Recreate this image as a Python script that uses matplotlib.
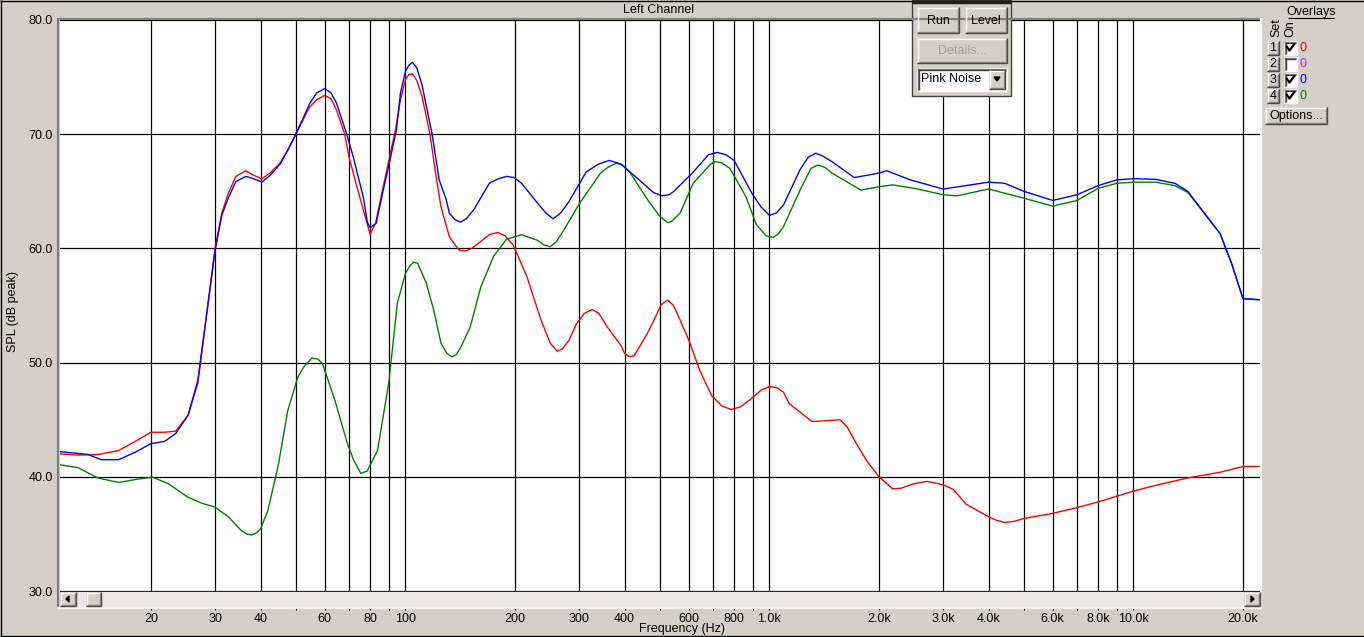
import matplotlib.pyplot as plt
from matplotlib.patches import Rectangle, Polygon
from matplotlib.ticker import NullLocator

# ---- measured curves (frequency in Hz, level in dB) ----
RED_F = [11.25, 12.6, 14.3, 16.3, 18.1, 20.0, 21.8, 23.4, 25.3, 26.9, 28.7, 30.0,
         31.3, 32.6, 34.2, 36.4, 38.3, 40.3, 42.5, 45.3, 47.5, 50.0, 54.6, 57.0,
         60.0, 62.5, 64.7, 68.1, 70.0, 74.0, 78.9, 80.0, 82.8, 86.1, 89.9, 93.9,
         96.9, 100, 102, 104.5, 107.5, 111.1, 116.8, 121.0, 125.2, 132.1, 138.1,
         140.5, 145.9, 152, 161.0, 170, 179.4, 188, 197.6, 215.8, 235.9, 250, 261.2,
         270, 281.5, 295, 310, 325.7, 340, 359, 392.7, 400, 413.8, 425, 440, 466.5,
         505, 525.6, 545, 558, 600, 644, 694, 740, 784.6, 830, 881, 950, 1000, 1050,
         1093, 1134, 1210, 1306, 1420, 1564, 1640, 1712, 1850, 2000, 2180, 2300, 2500,
         2710, 3000, 3200, 3470, 4000, 4200, 4430, 4700, 5000, 6000, 7000, 8000, 9000,
         10000, 11500, 14100, 17300, 20000, 22270]
RED_DB = [42.0, 41.9, 41.95, 42.3, 43.1, 43.9, 43.9, 44.0, 45.4, 48.2, 55.2, 60.0,
          63.1, 64.8, 66.3, 66.8, 66.4, 66.1, 66.6, 67.5, 68.6, 70.0, 72.4, 73.0,
          73.4, 73.1, 72.1, 70.0, 68.0, 65.1, 61.9, 61.25, 62.2, 64.8, 67.6, 70.4,
          73.0, 74.75, 75.2, 75.3, 74.7, 73.3, 70.0, 66.6, 63.65, 61.0, 60.15,
          59.85, 59.77, 60.0, 60.6, 61.2, 61.4, 61.1, 60.3, 57.5, 53.7, 51.7, 51.0,
          51.2, 51.96, 53.4, 54.3, 54.65, 54.3, 53.1, 51.4, 50.8, 50.5, 50.6, 51.4, 52.8,
          55.1, 55.47, 55.0, 54.3, 52.0, 49.3, 47.1, 46.2, 45.9, 46.1, 46.7, 47.6, 47.9, 47.8,
          47.4, 46.4, 45.7, 44.85, 44.9, 45.0, 44.3, 43.2, 41.4, 40.0, 38.95, 39.0, 39.4,
          39.6, 39.3, 38.9, 37.6, 36.5, 36.2, 36.0, 36.1, 36.35, 36.8, 37.3, 37.8, 38.3,
          38.75, 39.25, 39.9, 40.4, 40.9, 40.9]

BLUE_F = [11.25, 13.4, 14.6, 16.3, 18.1, 20.0, 21.8, 23.4, 25.3, 26.9, 28.7, 30.0,
          31.3, 32.6, 34.2, 36.4, 38.3, 40.3, 42.5, 45.3, 47.5, 50.0, 54.6, 57.0,
          60.0, 62.5, 64.7, 69.0, 71.9, 76.6, 78.6, 80.0, 83.1, 86.5, 90.5, 94.5,
          96.9, 100, 102, 104.5, 107.5, 111.1, 118.4, 123.8, 129.5, 132.1, 137,
          141.8, 147, 154.2, 170, 180, 189.5, 199, 208.5, 230.9, 243, 254.4, 267,
          281.5, 313.8, 340, 363, 390, 424.5, 480, 506, 530, 545, 614, 680, 718.6,
          760, 800, 896, 950, 1000, 1045, 1093, 1214, 1280, 1341, 1400, 1485, 1711,
          2000, 2100, 2440, 3000, 4000, 4430, 5000, 6000, 7000, 8000, 9000, 10000,
          11500, 13000, 14100, 15300, 17300, 18600, 20000, 22270]
BLUE_DB = [42.2, 41.96, 41.5, 41.5, 42.15, 42.9, 43.1, 43.8, 45.4, 48.45, 55.2, 59.85,
           62.9, 64.4, 65.85, 66.3, 66.1, 65.8, 66.4, 67.4, 68.6, 70.0, 72.7, 73.6,
           74.0, 73.6, 72.7, 70.0, 68.0, 64.5, 62.3, 61.8, 62.2, 64.8, 67.6, 70.4,
           73.6, 75.5, 76.0, 76.3, 75.8, 74.3, 70.0, 66.0, 64.25, 63.07, 62.5,
           62.3, 62.6, 63.4, 65.7, 66.1, 66.3, 66.2, 65.7, 63.95, 63.1, 62.6, 63.1,
           64.1, 66.7, 67.4, 67.7, 67.4, 66.4, 64.9, 64.6, 64.7, 64.97, 66.6, 68.2, 68.4,
           68.2, 67.7, 64.8, 63.6, 62.9, 63.1, 63.8, 66.9, 68.0, 68.33, 68.1, 67.6, 66.2,
           66.6, 66.8, 66.0, 65.2, 65.8, 65.7, 65.0, 64.2, 64.7, 65.5, 66.0, 66.1,
           66.05, 65.7, 65.0, 63.5, 61.3, 58.7, 55.6, 55.5]

GREEN_F = [11.25, 12.6, 14.3, 16.3, 18.4, 20.2, 22.3, 25.3, 27.5, 30.0, 32.6, 35.4,
           36.6, 37.8, 39.0, 40.0, 41.9, 44.8, 47.5, 50.6, 52.5, 55.3, 57.5, 59.2, 64.0,
           69.3, 72.0, 75.4, 78.5, 83.8, 90.0, 95.0, 100, 103, 105.5, 108, 114.0,
           119.6, 125.2, 130, 134.3, 138, 142.2, 150.6, 161.0, 174.6, 189.5, 208.5,
           230.9, 240, 250, 260, 272.3, 301, 343.6, 360, 380, 395, 412.7, 466.5, 500,
           525.6, 540, 568.5, 617.3, 690, 711, 740, 779, 862.6, 920, 980, 1024, 1060,
           1093, 1214, 1300, 1355, 1420, 1485, 1784, 2000, 2180, 2500, 3000, 3270,
           4000, 5000, 6000, 7000, 8000, 9000, 10000, 11500, 13000, 14100, 15300,
           17300, 18600, 20000, 22270]
GREEN_DB = [41.05, 40.8, 39.9, 39.5, 39.8, 39.97, 39.4, 38.2, 37.7, 37.35, 36.5, 35.3,
            35.0, 34.9, 35.1, 35.44, 37.05, 41.1, 45.8, 48.7, 49.6, 50.4, 50.3, 49.9, 46.7,
            42.9, 41.5, 40.3, 40.5, 42.3, 48.2, 55.2, 57.8, 58.5, 58.8, 58.7, 57.0,
            54.6, 51.7, 50.8, 50.5, 50.7, 51.4, 53.1, 56.6, 59.3, 60.8, 61.2,
            60.7, 60.3, 60.15, 60.6, 61.6, 63.95, 66.6, 67.1, 67.46, 67.3, 66.7, 64.1, 62.8,
            62.25, 62.4, 63.1, 65.7, 67.4, 67.6, 67.5, 67.0, 64.5, 62.1, 61.1, 60.96, 61.3,
            61.9, 65.1, 67.0, 67.3, 67.1, 66.6, 65.1, 65.4, 65.56, 65.26, 64.7, 64.6,
            65.2, 64.4, 63.7, 64.2, 65.26, 65.7, 65.8, 65.8, 65.5, 64.9, 63.5,
            61.3, 58.7, 55.6, 55.5]

GRID_F = [20, 30, 40, 50, 60, 70, 80, 90, 100, 200, 300, 400, 500, 600, 700, 800,
          900, 1000, 2000, 3000, 4000, 5000, 6000, 7000, 8000, 9000, 10000, 20000]
LABELED = {20: '20', 30: '30', 40: '40', 60: '60', 80: '80', 100: '100', 200: '200',
           300: '300', 400: '400', 600: '600', 800: '800', 1000: '1.0k', 2000: '2.0k',
           3000: '3.0k', 4000: '4.0k', 6000: '6.0k', 8000: '8.0k', 10000: '10.0k',
           20000: '20.0k'}
Y_TICKS = [30, 40, 50, 60, 70, 80]

SETS = ['1', '2', '3', '4']
SET_ON = [True, False, True, True]
SET_COLORS = ['#FF0000', '#FF00FF', '#0000FF', '#008000']

# ---- layout ----
BG = '#D4D0C8'
W, H = 1364, 637
F_LEFT, F_RIGHT = 11.247, 22270
plt.rcParams['font.family'] = ['Liberation Sans', 'DejaVu Sans']
FS = 9


def fbox(x0, y0, x1, y1):
    # pixel box, origin top-left -> figure fraction rect
    return [x0 / W, 1 - y1 / H, (x1 - x0) / W, (y1 - y0) / H]


fig = plt.figure(figsize=(W / 100, H / 100), dpi=100, facecolor=BG)

# main plot
ax = fig.add_axes(fbox(60, 20, 1260, 591))
ax.set_facecolor('white')
ax.set_xscale('log')
ax.set_xlim(F_LEFT, F_RIGHT)
ax.set_ylim(30, 80)
ax.set_xticks(GRID_F)
ax.xaxis.set_minor_locator(NullLocator())
ax.set_yticks(Y_TICKS)
ax.set_yticklabels([f'{v:.1f}' for v in Y_TICKS])
ax.tick_params(axis='x', length=0, labelbottom=False)
ax.tick_params(axis='y', length=0, pad=5, labelsize=FS)
ax.grid(True, color='black', linewidth=0.9)
ax.set_axisbelow(True)
for s in ax.spines.values():
    s.set_visible(False)

ax.plot(RED_F, RED_DB, color='#FF0000', lw=1.0, zorder=3)
ax.plot(GREEN_F, GREEN_DB, color='#008000', lw=1.0, zorder=3)
ax.plot(BLUE_F, BLUE_DB, color='#0000FF', lw=1.0, zorder=4)

# scrollbar strip that also carries the frequency labels
sx = fig.add_axes(fbox(60, 591, 1260, 607))
sx.set_facecolor('#EAE9E5')
sx.set_xscale('log')
sx.set_xlim(F_LEFT, F_RIGHT)
sx.set_ylim(0, 1)
sx.set_xticks(GRID_F)
sx.set_xticklabels([LABELED.get(f, '') for f in GRID_F])
sx.xaxis.set_minor_locator(NullLocator())
sx.set_yticks([])
sx.tick_params(axis='x', direction='out', length=2.5, width=0.8, pad=1.5, labelsize=FS)
for s in sx.spines.values():
    s.set_visible(False)
sx.axhline(1, color='black', lw=1.2)

# overlay for the window chrome, in pixel coordinates
ui = fig.add_axes([0, 0, 1, 1], zorder=10)
ui.set_xlim(0, W)
ui.set_ylim(H, 0)
ui.axis('off')


def line(xs, ys, c, lw=1.0):
    ui.plot(xs, ys, color=c, lw=lw, solid_capstyle='butt')


def bevel(x0, y0, x1, y1, face=BG):
    ui.add_patch(Rectangle((x0, y0), x1 - x0, y1 - y0, facecolor=face, edgecolor='none'))
    line([x0, x1], [y0 + 0.5, y0 + 0.5], 'white')
    line([x0 + 0.5, x0 + 0.5], [y0, y1], 'white')
    line([x0, x1], [y1 - 0.5, y1 - 0.5], '#404040')
    line([x1 - 0.5, x1 - 0.5], [y0, y1], '#404040')
    line([x0 + 1, x1 - 1], [y1 - 1.5, y1 - 1.5], '#808080')
    line([x1 - 1.5, x1 - 1.5], [y0 + 1, y1 - 1], '#808080')


def sunken(x0, y0, x1, y1, face='white'):
    ui.add_patch(Rectangle((x0, y0), x1 - x0, y1 - y0, facecolor=face, edgecolor='none'))
    line([x0, x1], [y0 + 0.5, y0 + 0.5], '#808080')
    line([x0 + 0.5, x0 + 0.5], [y0, y1], '#808080')
    line([x0 + 1, x1 - 1], [y0 + 1.5, y0 + 1.5], '#404040')
    line([x0 + 1.5, x0 + 1.5], [y0 + 1, y1 - 1], '#404040')
    line([x0, x1], [y1 - 0.5, y1 - 0.5], 'white')
    line([x1 - 0.5, x1 - 0.5], [y0, y1], 'white')


# outer frame and plot border
line([0, W], [0.5, 0.5], 'black')
line([0.5, 0.5], [0, H], 'black')
line([0, W], [H - 1, H - 1], 'black')
line([57, 1262], [18.5, 18.5], '#808080', 1.6)
line([58.3, 58.3], [18, 608], '#808080', 1.6)
line([1261, 1261], [18, 608], '#F4F4F4', 1.6)
line([57, 1262], [607.5, 607.5], '#F4F4F4', 1.6)

ui.text(659, 10, 'Left Channel', ha='center', va='center', fontsize=FS)
ui.text(13, 311, 'SPL (dB peak)', ha='center', va='center', rotation=90, fontsize=FS)
ui.text(682, 629, 'Frequency (Hz)', ha='center', va='center', fontsize=FS)

# scrollbar buttons
bevel(60, 592, 76, 606)
ui.add_patch(Polygon([[66, 599], [69, 596], [69, 602]], color='black'))
bevel(86, 592, 101, 606)
bevel(1244, 592, 1260, 606)
ui.add_patch(Polygon([[1254, 599], [1251, 596], [1251, 602]], color='black'))

# floating measurement panel
ui.add_patch(Rectangle((912, 0), 99, 95.5, facecolor=BG, edgecolor='#404040', lw=1.0))
line([912, 1011], [1.5, 1.5], '#202020', 2.5)
bevel(917, 7, 959, 33)
ui.text(938, 20.5, 'Run', ha='center', va='center', fontsize=FS)
bevel(965, 7, 1007, 33)
ui.text(986, 20.5, 'Level', ha='center', va='center', fontsize=FS)
bevel(917, 38, 1007, 63)
ui.text(962.5, 51, 'Details...', ha='center', va='center', fontsize=FS, color='#A09C94')
sunken(917, 68, 1007, 91)
ui.text(921, 79.5, 'Pink Noise', ha='left', va='center', fontsize=FS)
bevel(989, 70, 1005, 89)
ui.add_patch(Polygon([[994, 77], [1000, 77], [997, 81]], color='black'))

# overlays panel
ui.text(1311, 12, 'Overlays', ha='center', va='center', fontsize=FS)
line([1288, 1334], [18, 18], 'black', 0.8)
ui.text(1276, 28, 'Set', ha='center', va='center', rotation=90, fontsize=FS)
ui.text(1290, 29, 'On', ha='center', va='center', rotation=90, fontsize=FS)
for i, (name, on, col) in enumerate(zip(SETS, SET_ON, SET_COLORS)):
    yc = 48 + 16 * i
    bevel(1267, yc - 7, 1279, yc + 7)
    ui.text(1273, yc, name, ha='center', va='center', fontsize=FS)
    sunken(1284, yc - 7, 1297, yc + 7)
    if on:
        ui.plot([1287, 1289.5, 1294], [yc - 1, yc + 2.5, yc - 3.5], color='black', lw=1.6)
    ui.text(1300, yc, '0', ha='left', va='center', fontsize=FS, color=col)
bevel(1265, 107, 1327, 124)
ui.text(1296, 115.5, 'Options...', ha='center', va='center', fontsize=FS)

fig.savefig('out.png', dpi=100, facecolor=BG)
